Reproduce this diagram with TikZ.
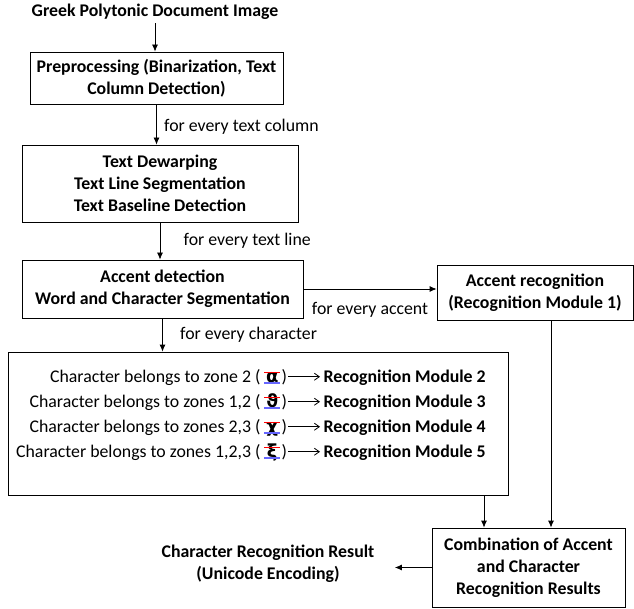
\documentclass[tikz,border=0pt]{standalone}
\usepackage{fontspec}
\setmainfont{Carlito}
\newfontfamily\glyphfont{DejaVu Sans}
\usetikzlibrary{arrows.meta}

\begin{document}
\begin{tikzpicture}[x=1pt,y=-1pt,
  font=\fontsize{17.8}{22}\selectfont,
  box/.style={draw,line width=0.8pt,align=center,font=\fontsize{17.8}{22}\selectfont\bfseries,inner sep=0pt},
  arr/.style={-{Latex[length=7pt,width=6pt]},line width=0.8pt},
  thin arr/.style={-{Straight Barb[length=5pt,width=7pt]},line width=0.8pt},
  glyph/.style={inner sep=0pt,minimum width=16pt,anchor=base west,font=\glyphfont\fontsize{18}{18}\selectfont\bfseries},
  upper/.style={red,line width=0.9pt},
  lower/.style={blue!60,line width=1.1pt}]
\useasboundingbox (0,0) rectangle (634,609);

\node[font=\fontsize{17.8}{22}\selectfont\bfseries] (img) at (155,12) {Greek Polytonic Document Image};
\node[box,minimum width=253pt,minimum height=52pt] (pre) at (156.5,78) {Preprocessing (Binarization, Text\\Column Detection)};
\node[box,minimum width=276pt,minimum height=77pt] (dew) at (160,183.5) {Text Dewarping\\Text Line Segmentation\\Text Baseline Detection};
\node[box,minimum width=281pt,minimum height=58pt] (acc) at (162.5,289) {Accent detection\\Word and Character Segmentation};
\node[box,minimum width=196pt,minimum height=55pt] (rec1) at (535,292.5) {Accent recognition\\(Recognition Module 1)};
\node[box,minimum width=500pt,minimum height=143pt] (zones) at (258,423.5) {};
\node[box,minimum width=193pt,minimum height=79pt] (comb) at (528.5,567.5) {Combination of Accent\\and Character\\Recognition Results};
\node[align=center,font=\fontsize{17.8}{22}\selectfont\bfseries] (res) at (268,564) {Character Recognition Result\\(Unicode Encoding)};

\draw[arr] (img.south) -- (img.south |- pre.north);
\draw[arr] (pre.south) -- (pre.south |- dew.north) node [pos=0.55,anchor=west,xshift=4pt] {for every text column};
\draw[arr] (dew.south) -- (dew.south |- acc.north) node [pos=0.5,anchor=west,xshift=20pt] {for every text line};
\draw[arr] (acc.east) -- (acc.east -| rec1.west) node [pos=0.5,anchor=north,yshift=-10pt] {for every accent};
\draw[arr] (acc.south) -- (acc.south |- zones.north) node [pos=0.5,anchor=west,xshift=14pt] {for every character};
\draw[arr] ([xshift=16pt]rec1.south) -- ([xshift=16pt]rec1.south |- comb.north);
\draw[arr] ([xshift=226pt]zones.south) -- ([xshift=226pt]zones.south |- comb.north);
\draw[arr] (comb.west) -- ([xshift=17pt]res.east |- comb.west);

\node[anchor=base east] (z2) at (264,382) {Character belongs to zone 2 (};
\node[glyph] (g2) at (z2.base east) {α};
\node[anchor=base west,inner xsep=1pt] (p2) at (g2.base east) {)};
\node[anchor=base west,font=\fontsize{17.8}{22}\selectfont\bfseries] (m2) at (320,382) {Recognition Module 2};
\draw[upper] ([yshift=10pt]g2.base west) -- ([yshift=10pt]g2.base east);
\draw[lower] ([yshift=-1pt]g2.base west) -- ([yshift=-1pt]g2.base east);
\draw[thin arr] (p2.east) -- (p2.east -| m2.west);

\node[anchor=base east] (z3) at (264,407) {Character belongs to zones 1,2 (};
\node[glyph] (g3) at (z3.base east) {ϑ};
\node[anchor=base west,inner xsep=1pt] (p3) at (g3.base east) {)};
\node[anchor=base west,font=\fontsize{17.8}{22}\selectfont\bfseries] (m3) at (320,407) {Recognition Module 3};
\draw[upper] ([yshift=10pt]g3.base west) -- ([yshift=10pt]g3.base east);
\draw[lower] ([yshift=-1pt]g3.base west) -- ([yshift=-1pt]g3.base east);
\draw[thin arr] (p3.east) -- (p3.east -| m3.west);

\node[anchor=base east] (z4) at (264,432) {Character belongs to zones 2,3 (};
\node[glyph] (g4) at (z4.base east) {χ};
\node[anchor=base west,inner xsep=1pt] (p4) at (g4.base east) {)};
\node[anchor=base west,font=\fontsize{17.8}{22}\selectfont\bfseries] (m4) at (320,432) {Recognition Module 4};
\draw[upper] ([yshift=10pt]g4.base west) -- ([yshift=10pt]g4.base east);
\draw[lower] ([yshift=-1pt]g4.base west) -- ([yshift=-1pt]g4.base east);
\draw[thin arr] (p4.east) -- (p4.east -| m4.west);

\node[anchor=base east] (z5) at (264,457) {Character belongs to zones 1,2,3 (};
\node[glyph] (g5) at (z5.base east) {ξ};
\node[anchor=base west,inner xsep=1pt] (p5) at (g5.base east) {)};
\node[anchor=base west,font=\fontsize{17.8}{22}\selectfont\bfseries] (m5) at (320,457) {Recognition Module 5};
\draw[upper] ([yshift=10pt]g5.base west) -- ([yshift=10pt]g5.base east);
\draw[lower] ([yshift=-1pt]g5.base west) -- ([yshift=-1pt]g5.base east);
\draw[thin arr] (p5.east) -- (p5.east -| m5.west);
\end{tikzpicture}
\end{document}
